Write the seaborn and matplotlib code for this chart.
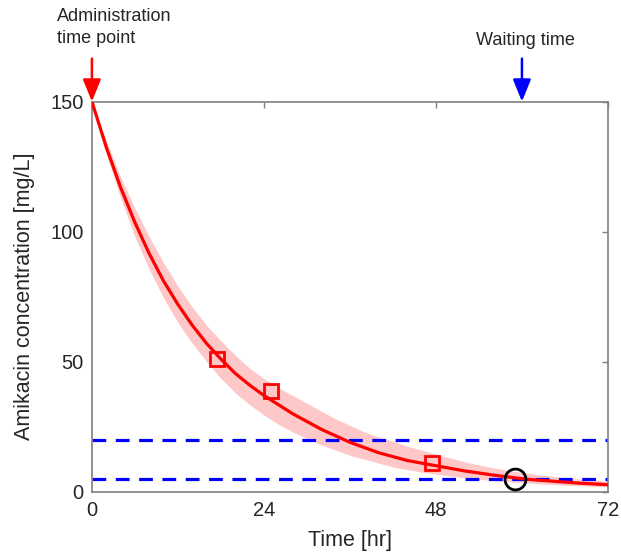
import numpy as np
import pandas as pd
import seaborn as sns
import matplotlib.pyplot as plt

# values
time_hr = [0, 2, 4, 6, 8, 10, 12, 14, 16, 18, 20, 22, 24, 26, 28, 30, 32, 34, 36,
           38, 40, 42, 44, 46, 48, 50, 52, 54, 56, 58, 60, 62, 64, 66, 68, 70, 72]
conc_fit = [150, 132.5, 117, 103.5, 91.5, 81, 72, 64, 57, 51, 45.5, 41, 37, 33.5, 30,
            27, 24, 21.5, 19, 17, 15, 13.5, 12, 11, 10, 9, 8, 7.2, 6.4, 5.7, 5.0,
            4.5, 4.1, 3.7, 3.3, 3.0, 2.7]
conc_lower = [150, 130, 113, 98, 85.5, 74.5, 65, 57, 50, 43.5, 38, 33.5, 29.5, 26, 23,
              20.5, 18, 16, 14, 12.5, 11, 9.5, 8.5, 7.5, 6.8, 6, 5.4, 4.8, 4.3, 3.9,
              3.5, 3.1, 2.8, 2.5, 2.3, 2.1, 1.9]
conc_upper = [150, 135, 121, 109, 98, 88, 79, 71, 64, 58, 52.5, 47.5, 43.5, 40, 37,
              34, 31, 28, 25.5, 23, 21, 19.5, 17.5, 16, 14.5, 13, 11.5, 10.3, 9.2,
              8.2, 7.4, 6.6, 6, 5.4, 4.9, 4.5, 4.1]

obs_time = [17.4, 25, 47.4]
obs_conc = [51, 38.7, 10.9]

thresholds = [20, 5]
admin_time = 0
waiting_time = 60
cross_time = 59
cross_conc = 5

x_ticks = [0, 24, 48, 72]
y_ticks = [0, 50, 100, 150]

sns.set_style("white")
plt.rcParams['font.family'] = ['Liberation Sans', 'DejaVu Sans']

df = pd.DataFrame({'time': time_hr, 'conc': conc_fit})

fig = plt.figure(figsize=(6.21, 5.55), dpi=100)
ax = fig.add_axes([0.148, 0.114, 0.831, 0.703])

ax.fill_between(time_hr, conc_lower, conc_upper, color='#ffc8c8', lw=0, zorder=1)
sns.lineplot(data=df, x='time', y='conc', color='red', lw=2.3, ax=ax, zorder=3)

for th in thresholds:
    ax.axhline(th, color='blue', lw=2.3, dashes=(4.3, 3), zorder=2)

ax.plot(obs_time, obs_conc, 's', ms=10.5, mfc='none', mec='red', mew=2, zorder=4)
ax.plot([cross_time], [cross_conc], 'o', ms=15, mfc='none', mec='black', mew=2, zorder=5)

ax.set_xlim(0, 72)
ax.set_ylim(0, 150)
ax.set_xticks(x_ticks)
ax.set_yticks(y_ticks)
ax.tick_params(direction='in', length=4, width=1, color='#808080', top=True, right=True,
               labelsize=14.5, labelcolor='#262626')
ax.tick_params(axis='x', pad=7)
ax.tick_params(axis='y', pad=6)
for sp in ax.spines.values():
    sp.set_color('#808080')
    sp.set_linewidth(1.2)

ax.set_xlabel('Time [hr]', fontsize=15.5, color='#262626', labelpad=7)
ax.set_ylabel('Amikacin concentration [mg/L]', fontsize=15.5, color='#262626', labelpad=11)

arrow_kw = dict(arrowstyle='-|>,head_length=1.35,head_width=0.55', lw=1.8, shrinkA=0, shrinkB=0)
ax.annotate('', xy=(admin_time, 150), xytext=(admin_time, 150 + 16.5),
            arrowprops=dict(color='red', **arrow_kw), annotation_clip=False)
ax.annotate('', xy=(waiting_time, 150), xytext=(waiting_time, 150 + 16.5),
            arrowprops=dict(color='blue', **arrow_kw), annotation_clip=False)

fig.text(57 / 621, 1 - 8 / 555, 'Administration\ntime point', fontsize=13,
         color='#262626', ha='left', va='top', linespacing=1.35)
fig.text(525 / 621, 1 - 32 / 555, 'Waiting time', fontsize=13,
         color='#262626', ha='center', va='top')

fig.savefig('out.png', dpi=100)
